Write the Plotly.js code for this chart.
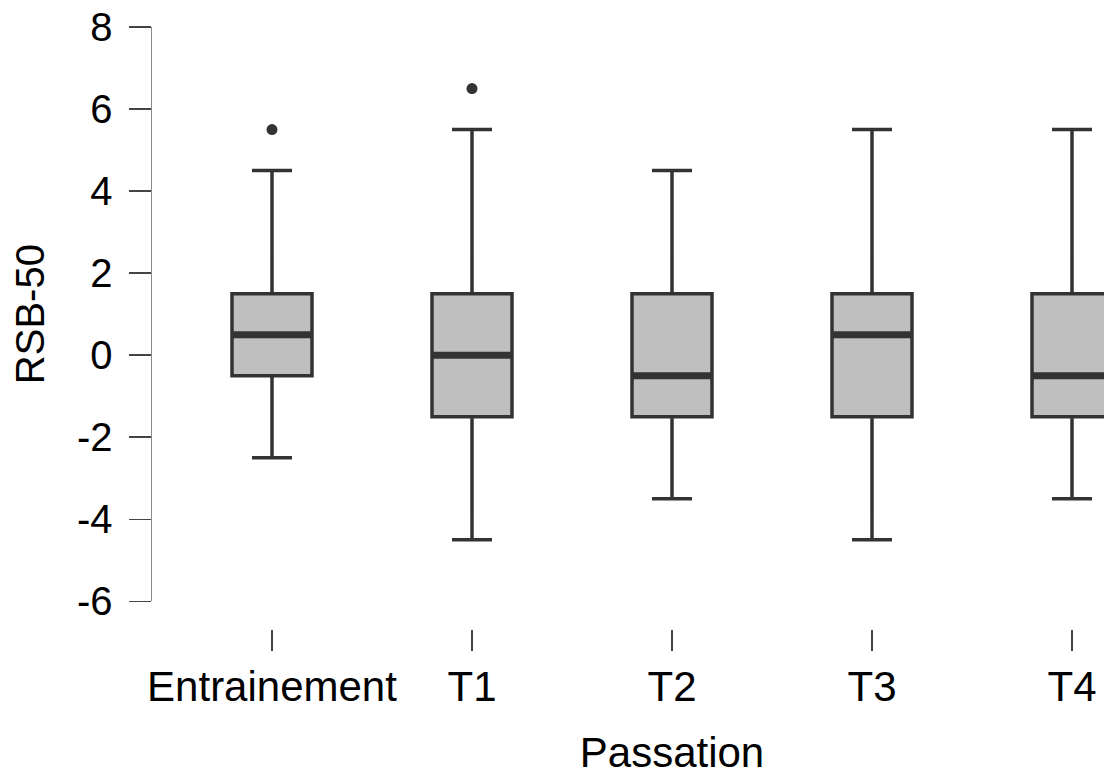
<!DOCTYPE html>
<html>
<head>
<meta charset="utf-8">
<script src="https://cdn.plot.ly/plotly-3.0.1.min.js"></script>
<style>
html, body { margin: 0; padding: 0; overflow: hidden; background: #ffffff; }
#chart { width: 1192px; height: 776px; }
</style>
</head>
<body>
<div id="chart"></div>
<script>
// Data
const categories = ["Entrainement", "T1", "T2", "T3", "T4"];
const lowerWhisker = [-2.5, -4.5, -3.5, -4.5, -3.5];
const q1Values = [-0.5, -1.5, -1.5, -1.5, -1.5];
const medianValues = [0.5, 0.0, -0.5, 0.5, -0.5];
const q3Values = [1.5, 1.5, 1.5, 1.5, 1.5];
const upperWhisker = [4.5, 5.5, 4.5, 5.5, 5.5];
const outlierCategory = ["Entrainement", "T1"];
const outlierValues = [5.5, 6.5];
const yTicks = [-6, -4, -2, 0, 2, 4, 6, 8];

const positions = categories.map((c, i) => i);
const boxWidth = 0.4;

const boxTrace = {
  type: "box",
  x: positions,
  q1: q1Values,
  median: medianValues,
  q3: q3Values,
  lowerfence: lowerWhisker,
  upperfence: upperWhisker,
  width: boxWidth,
  whiskerwidth: 0.5,
  fillcolor: "#bfbfbf",
  line: { color: "#333333", width: 3.5 },
  boxpoints: false,
  hoverinfo: "skip",
  showlegend: false
};

// thick median bars built from the median array
const medX = [], medY = [];
medianValues.forEach((m, i) => {
  medX.push(positions[i] - boxWidth / 2, positions[i] + boxWidth / 2, null);
  medY.push(m, m, null);
});
const medianTrace = {
  type: "scatter",
  mode: "lines",
  x: medX,
  y: medY,
  line: { color: "#333333", width: 7 },
  hoverinfo: "skip",
  showlegend: false
};

const outlierTrace = {
  type: "scatter",
  mode: "markers",
  x: outlierCategory.map(c => categories.indexOf(c)),
  y: outlierValues,
  marker: { color: "#333333", size: 11 },
  hoverinfo: "skip",
  showlegend: false
};

const family = "Liberation Sans, Arial, sans-serif";
const bigFont = { family: family, size: 42, color: "#000000" };
const yFont = { family: family, size: 40, color: "#000000" };

const layout = {
  width: 1192,
  height: 776,
  margin: { l: 152, r: 0, t: 27, b: 147 },
  paper_bgcolor: "#ffffff",
  plot_bgcolor: "#ffffff",
  font: yFont,
  showlegend: false,
  xaxis: {
    range: [-0.6, 4.6],
    tickmode: "array",
    tickvals: positions,
    ticktext: categories,
    ticks: "outside",
    ticklen: 21,
    tickwidth: 1.5,
    tickcolor: "#444444",
    ticklabelstandoff: 0,
    showline: false,
    showgrid: false,
    zeroline: false,
    anchor: "free",
    position: 0,
    tickfont: bigFont,
    title: { text: "Passation", font: bigFont, standoff: 42 }
  },
  yaxis: {
    domain: [0.046, 1],
    range: [-6, 8],
    tickmode: "array",
    tickvals: yTicks,
    ticktext: yTicks.map(String),
    ticks: "outside",
    ticklen: 22,
    tickwidth: 1.5,
    tickcolor: "#444444",
    ticklabelstandoff: 8,
    showline: true,
    linecolor: "#8a8a8a",
    linewidth: 1.5,
    showgrid: false,
    zeroline: false,
    tickfont: yFont,
    title: { text: "RSB-50", font: yFont, standoff: 20 }
  }
};

Plotly.newPlot("chart", [boxTrace, medianTrace, outlierTrace], layout, { staticPlot: true, displayModeBar: false });
</script>
</body>
</html>
